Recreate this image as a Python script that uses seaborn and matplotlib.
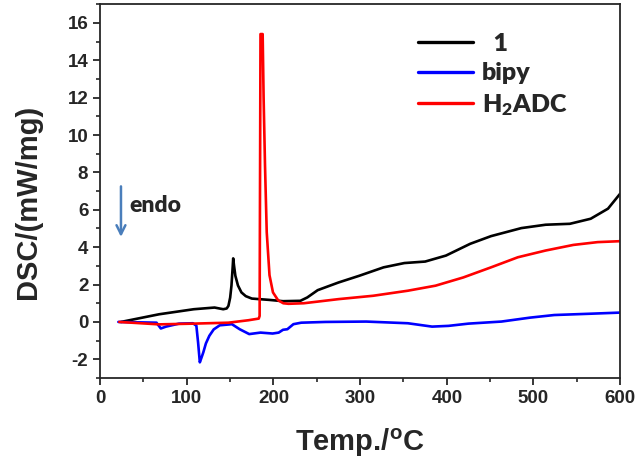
import matplotlib
matplotlib.use('Agg')
import matplotlib.pyplot as plt
import seaborn as sns
import pandas as pd
from matplotlib.ticker import MultipleLocator

# --- DATA ---
temp_1 = [24, 68, 108, 132, 142, 146, 148, 150, 151.5, 153, 153.5, 154.5, 156, 159, 163, 168, 175,
          195, 211, 231, 239, 251, 275, 299, 327, 351, 375, 399, 427, 451, 486, 514, 542, 566, 586, 600]
dsc_1 = [0.0, 0.41, 0.68, 0.77, 0.68, 0.72, 0.86, 1.3, 1.94, 3.0, 3.4, 3.0, 2.47, 1.95, 1.58, 1.38,
         1.25, 1.18, 1.11, 1.13, 1.31, 1.7, 2.11, 2.47, 2.92, 3.15, 3.23, 3.55, 4.18, 4.59, 5.02, 5.2,
         5.25, 5.52, 6.06, 6.86]

temp_bipy = [21, 65, 70, 76, 91, 107, 111, 113, 115, 117, 119, 122, 126, 131, 138, 152, 161, 172,
             185, 199, 206, 211, 216, 223, 232, 260, 307, 355, 383, 402, 425, 463, 496, 524, 566, 600]
dsc_bipy = [0.0, -0.04, -0.35, -0.25, -0.09, -0.07, -0.2, -1.1, -2.16, -1.9, -1.63, -1.15, -0.74,
            -0.4, -0.18, -0.12, -0.39, -0.65, -0.57, -0.62, -0.57, -0.42, -0.39, -0.12, -0.04, 0.0,
            0.02, -0.07, -0.25, -0.21, -0.09, 0.02, 0.23, 0.37, 0.44, 0.5]

temp_h2adc = [22, 68, 108, 148, 171, 183, 184, 185, 187.5, 188.6, 190.2, 192.2, 195.4, 199.4, 205.3,
              211.3, 217.3, 235, 275, 315, 355, 387, 419, 451, 482, 514, 546, 574, 600]
dsc_h2adc = [0.0, -0.13, -0.09, -0.04, 0.09, 0.18, 0.32, 15.4, 15.4, 12.0, 8.4, 4.8, 2.5, 1.58, 1.16,
             1.0, 0.97, 1.0, 1.22, 1.4, 1.67, 1.94, 2.38, 2.92, 3.46, 3.82, 4.12, 4.27, 4.32]

labels = ["  1", "bipy", r"H$_2$ADC"]
colors = ["black", "#0000ff", "#ff0000"]

sns.set_style("ticks")
plt.rcParams['font.family'] = ['Liberation Sans', 'DejaVu Sans']
plt.rcParams['axes.unicode_minus'] = False
plt.rcParams['mathtext.default'] = 'regular'

fig = plt.figure(figsize=(6.38, 4.61), dpi=100)
ax = fig.add_axes([0.157, 0.18, 0.815, 0.811])

for t, d, lab, c in zip([temp_1, temp_bipy, temp_h2adc], [dsc_1, dsc_bipy, dsc_h2adc], labels, colors):
    df = pd.DataFrame({"T": t, "DSC": d})
    sns.lineplot(data=df, x="T", y="DSC", ax=ax, color=c, lw=1.9, label=lab, sort=False)

ax.set_xlim(0, 600)
ax.set_ylim(-3, 17)
ax.xaxis.set_major_locator(MultipleLocator(100))
ax.xaxis.set_minor_locator(MultipleLocator(50))
ax.yaxis.set_major_locator(MultipleLocator(2))
ax.yaxis.set_minor_locator(MultipleLocator(1))
ax.tick_params(which='major', direction='out', length=5, width=1.3, labelsize=13.5)
ax.tick_params(which='minor', direction='out', length=3, width=1.2)
for lbl in ax.get_xticklabels() + ax.get_yticklabels():
    lbl.set_fontweight('bold')
for s in ax.spines.values():
    s.set_linewidth(1.3)

ax.set_xlabel("Temp./$^\\mathregular{o}$C", fontsize=21, fontweight='bold', labelpad=14)
ax.set_ylabel("DSC/(mW/mg)", fontsize=21, fontweight='bold')
ax.yaxis.set_label_coords(-0.112, 0.47)

# endo arrow
ax.annotate("", xy=(24, 4.4), xytext=(24, 7.4),
            arrowprops=dict(arrowstyle="->", color="#4a7ebb", lw=1.8, mutation_scale=16))
ax.text(34, 6.25, "endo", fontsize=16.5, fontweight='heavy', va='center', ha='left', family='Lato')

leg = ax.legend(loc='upper left', bbox_to_anchor=(0.592, 0.95), frameon=False,
                borderaxespad=0, handlelength=2.2, handletextpad=0.35, labelspacing=0.3,
                prop={'family': 'Lato', 'weight': 'heavy', 'size': 18})
for line in leg.get_lines():
    line.set_linewidth(2.4)

fig.savefig("out.png", dpi=100)
